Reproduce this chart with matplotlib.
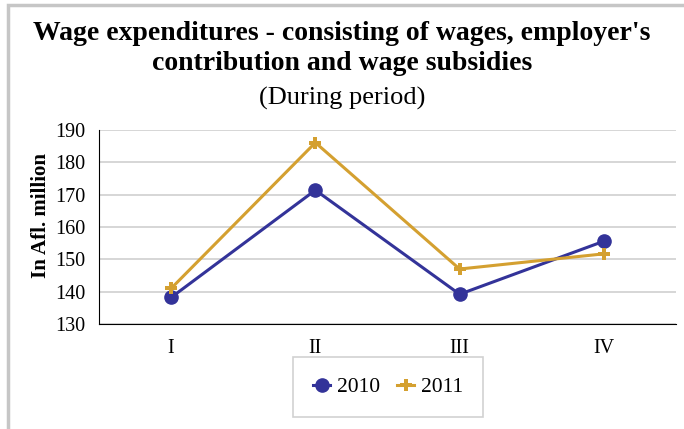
import matplotlib
matplotlib.use("Agg")
import matplotlib.pyplot as plt
from matplotlib.patches import Rectangle

categories = ["I", "II", "III", "IV"]
series_2010 = [138.2, 171.4, 139.2, 155.6]
series_2011 = [141.0, 186.1, 147.0, 151.7]
labels = ["2010", "2011"]
yticks = [130, 140, 150, 160, 170, 180, 190]

plt.rcParams['font.family'] = ['Liberation Serif', 'DejaVu Serif']

fig = plt.figure(figsize=(6.84, 4.29), dpi=100)
# outer frame
fig.patches.append(Rectangle((8/684, -0.1), 1.0, 1.1 - 5/429, transform=fig.transFigure,
                             fill=False, edgecolor='#c6c6c6', linewidth=2.5))

ax = fig.add_axes([99/684, 1 - 324/429, 577/684, 194/429])
x = list(range(len(categories)))
ax.plot(x, series_2010, color='#333399', linewidth=2.2, marker='o', markersize=9.5, label=labels[0])
ax.plot(x, series_2011, color='#D4A030', linewidth=2.2, marker='P', markersize=9,
        markeredgewidth=0, label=labels[1])

ax.set_xlim(-0.5, 3.5)
ax.set_ylim(130, 190)
ax.set_yticks(yticks)
ax.set_xticks(x)
ax.set_xticklabels(categories)
ax.tick_params(axis='y', length=0, labelsize=14.5, pad=10)
ax.tick_params(axis='x', length=0, labelsize=14.5, pad=11)
ax.yaxis.grid(True, color='#d0d0d0', linewidth=1.2)
ax.set_axisbelow(True)
for s in ['top', 'right']:
    ax.spines[s].set_visible(False)
ax.spines['left'].set_color('black')
ax.spines['bottom'].set_color('black')
ax.set_ylabel('In Afl. million', fontsize=15, fontweight='bold', labelpad=3)
ax.yaxis.label.set_y(0.56)

fig.text(0.5, 1 - 33/429, "Wage expenditures - consisting of wages, employer's", ha='center', va='center',
         fontsize=20, fontweight='bold')
fig.text(0.5, 1 - 63/429, "contribution and wage subsidies", ha='center', va='center',
         fontsize=20, fontweight='bold')
fig.text(0.5, 1 - 98/429, "(During period)", ha='center', va='center', fontsize=19)

leg = ax.legend(loc='center', bbox_to_anchor=(388/684, 1 - 387/429), bbox_transform=fig.transFigure,
                ncol=2, fontsize=15.5, frameon=True, fancybox=False, edgecolor='#c6c6c6',
                handlelength=0.8, handletextpad=0.3, columnspacing=0.8,
                borderpad=0.95)
leg.get_frame().set_linewidth(1.2)
leg.set_zorder(1)

fig.savefig('out.png', dpi=100)
